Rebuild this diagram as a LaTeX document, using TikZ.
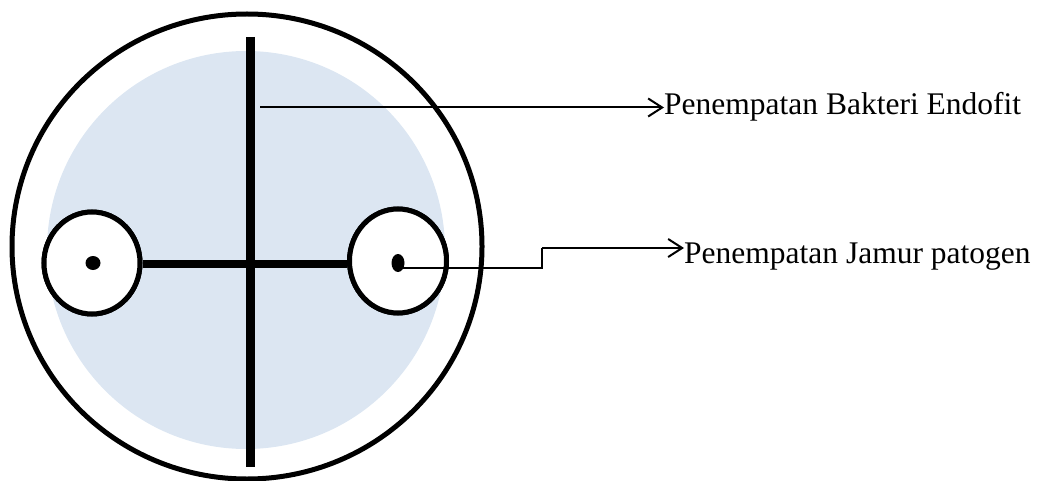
\documentclass[tikz,border=0pt]{standalone}
\usepackage{fontspec}
\setmainfont{Liberation Serif}
\usetikzlibrary{arrows.meta,shapes.geometric}
\definecolor{plate}{HTML}{DCE6F2}
\begin{document}
\begin{tikzpicture}[x=1pt,y=-1pt,
  ring/.style={draw=black,line width=5pt,fill=white,ellipse,inner sep=0pt},
  spot/.style={fill=black,ellipse,inner sep=0pt},
  bar/.style={line width=9pt,black},
  pointer/.style={line width=2pt,-{Straight Barb[length=14pt,width=18pt]}},
  label/.style={anchor=base west,inner sep=0pt,font=\fontsize{31.5}{36}\selectfont}]
\useasboundingbox (0,0) rectangle (1046,481);
% petri dish
\node[draw=black,line width=5pt,ellipse,minimum width=470pt,minimum height=465pt,inner sep=0pt] (dish) at (247,246.5) {};
\fill[plate] (246,250) circle (199);
% cross
\coordinate (vt) at (250,37);
\coordinate (vb) at (250,467);
\draw[bar] (vt) -- (vb);
\node[ring,minimum width=96pt,minimum height=102pt] (lring) at (92,263) {};
\node[ring,minimum width=97pt,minimum height=104pt] (rring) at (398,261) {};
\coordinate (hb) at (0,264);
\draw[line width=8.5pt] (lring.east |- hb) -- (rring.west |- hb);
\node[ring,minimum width=96pt,minimum height=102pt] at (92,263) {};
\node[ring,minimum width=97pt,minimum height=104pt] at (398,261) {};
\node[spot,minimum width=15pt,minimum height=14pt] (ldot) at (93,263) {};
\node[spot,minimum width=13pt,minimum height=18pt] (rdot) at (398,263) {};
% labels
\node[label] (lab1) at (664,115) {Penempatan Bakteri Endofit};
\node[label] (lab2) at (684,263) {Penempatan Jamur patogen};
\coordinate (c1) at (260,107.5);
\draw[pointer] (c1) -- (c1 -| lab1.west);
\coordinate (k0) at (398,267.5);
\coordinate (k1) at (542,248);
\draw[line width=2pt] (k0) -| (k1);
\draw[pointer] (k1) -- (k1 -| lab2.west);
\end{tikzpicture}
\end{document}
